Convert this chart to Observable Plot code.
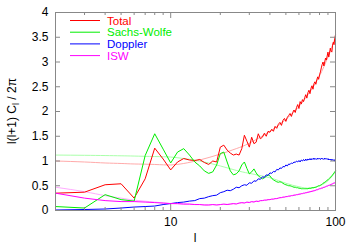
<!DOCTYPE html>
<html><head><meta charset="utf-8">
<script src="https://cdn.jsdelivr.net/npm/d3@7"></script>
<script src="https://cdn.jsdelivr.net/npm/@observablehq/plot@0.6"></script>
<style>body{margin:0;background:#fff}svg{display:block}</style>
</head><body><div id="chart"></div>
<script>
// multipoles l = 2..100
const ell = [2,3,4,5,6,7,8,9,10,11,12,13,14,15,16,17,18,19,20,21,22,23,24,25,26,27,28,29,30,31,32,33,34,35,36,37,38,39,40,41,42,43,44,45,46,47,48,49,50,51,52,53,54,55,56,57,58,59,60,61,62,63,64,65,66,67,68,69,70,71,72,73,74,75,76,77,78,79,80,81,82,83,84,85,86,87,88,89,90,91,92,93,94,95,96,97,98,99,100];
const total = [0.35,0.37,0.52,0.54,0.25,0.64,1.26,1.04,0.82,0.98,1.05,1.02,1.01,1.03,0.97,0.93,1.00,0.98,1.28,1.32,1.22,1.16,1.12,1.14,1.12,1.25,1.52,1.40,1.28,1.48,1.35,1.38,1.55,1.45,1.48,1.56,1.50,1.60,1.58,1.64,1.60,1.70,1.66,1.74,1.78,1.72,1.82,1.86,1.80,1.88,1.92,1.96,1.90,1.98,2.03,1.98,2.08,2.14,2.06,2.20,2.15,2.24,2.20,2.28,2.34,2.27,2.38,2.43,2.36,2.47,2.52,2.45,2.56,2.60,2.55,2.64,2.70,2.65,2.74,2.80,2.88,2.95,3.00,2.92,3.00,3.08,3.04,3.12,3.20,3.10,3.18,3.28,3.22,3.20,3.34,3.40,3.35,3.48,3.55];
const sachsWolfe = [0.08,0.05,0.32,0.22,0.19,1.11,1.55,1.24,0.96,1.18,1.25,1.12,0.98,0.90,0.80,0.75,0.78,0.92,1.15,1.18,0.98,0.80,0.72,0.74,0.80,0.92,0.98,0.85,0.74,0.78,0.84,0.76,0.70,0.67,0.64,0.66,0.69,0.72,0.70,0.65,0.62,0.60,0.58,0.57,0.58,0.57,0.55,0.53,0.52,0.51,0.50,0.50,0.49,0.48,0.47,0.47,0.46,0.46,0.45,0.45,0.44,0.44,0.44,0.44,0.44,0.44,0.44,0.45,0.45,0.45,0.46,0.46,0.46,0.47,0.47,0.48,0.49,0.50,0.50,0.51,0.52,0.53,0.55,0.56,0.57,0.58,0.60,0.61,0.62,0.64,0.65,0.67,0.68,0.70,0.72,0.74,0.76,0.78,0.80];
const doppler = [0.01,0.02,0.03,0.05,0.07,0.08,0.09,0.12,0.14,0.16,0.17,0.19,0.20,0.24,0.25,0.28,0.30,0.31,0.36,0.38,0.41,0.40,0.43,0.47,0.46,0.50,0.52,0.51,0.56,0.55,0.60,0.59,0.64,0.63,0.68,0.67,0.72,0.71,0.76,0.75,0.79,0.78,0.83,0.82,0.86,0.85,0.89,0.88,0.92,0.90,0.94,0.93,0.96,0.95,0.98,0.97,1.00,0.98,1.01,0.98,1.02,1.00,1.03,1.00,1.04,1.01,1.04,1.02,1.05,1.02,1.05,1.03,1.06,1.03,1.05,1.03,1.06,1.04,1.05,1.03,1.06,1.04,1.05,1.03,1.06,1.04,1.05,1.03,1.05,1.02,1.04,1.02,1.04,1.01,1.03,1.01,1.03,1.00,1.01];
const isw = [0.35,0.25,0.20,0.18,0.18,0.17,0.16,0.15,0.14,0.14,0.13,0.13,0.12,0.12,0.11,0.11,0.12,0.11,0.12,0.13,0.12,0.13,0.14,0.13,0.15,0.16,0.15,0.17,0.16,0.18,0.17,0.19,0.18,0.20,0.20,0.21,0.21,0.22,0.22,0.23,0.23,0.24,0.24,0.25,0.26,0.26,0.27,0.27,0.28,0.28,0.29,0.29,0.30,0.30,0.31,0.31,0.32,0.32,0.33,0.33,0.34,0.34,0.35,0.35,0.36,0.36,0.37,0.37,0.38,0.38,0.39,0.39,0.40,0.40,0.41,0.42,0.42,0.43,0.44,0.44,0.45,0.45,0.46,0.47,0.47,0.48,0.49,0.49,0.50,0.51,0.51,0.52,0.53,0.53,0.54,0.55,0.55,0.56,0.57];

// smooth (faint) curves
const ellSmooth = [2,3,4,5,6,8,10,12,15,20,25,30,40,50,60,70,80,90,100];
const totalSmooth = [1.00,0.98,0.96,0.95,0.94,0.93,0.92,0.95,1.02,1.14,1.25,1.36,1.60,1.84,2.10,2.40,2.72,3.10,3.50];
const swSmooth = [1.12,1.115,1.11,1.105,1.10,1.09,1.08,1.05,1.00,0.90,0.81,0.75,0.66,0.55,0.48,0.45,0.50,0.60,0.78];
const iswSmooth = [0.47,0.38,0.30,0.25,0.21,0.17,0.14,0.13,0.12,0.12,0.14,0.17,0.22,0.28,0.33,0.38,0.44,0.50,0.57];

const yTicks = [0,0.5,1,1.5,2,2.5,3,3.5,4];
const xMajor = [10,100];
const xMinor = [2,3,4,5,6,7,8,9,20,30,40,50,60,70,80,90];
const names = ["Total","Sachs-Wolfe","Doppler","ISW"];
const colors = ["#ff0000","#00ee00","#0000ff","#ff00ff"];
const faint = ["#ffaaaa","#aaffaa","#ffaaff"];

const W=349,H=245,mL=55,mR=14,mT=12,mB=35;
const pw=W-mL-mR, ph=H-mT-mB;
const rows = (arr, xs) => arr.map((v,i)=>({l:xs[i], v}));
const font = "'Liberation Sans', Arial, Helvetica, sans-serif";

const chart = Plot.plot({
  width:W, height:H, marginLeft:mL, marginRight:mR, marginTop:mT, marginBottom:mB,
  style:{fontFamily:font, fontSize:"12px", background:"#fff", color:"#000"},
  x:{type:"log", domain:[2,100]},
  y:{domain:[0,4]},
  marks:[
    Plot.line(rows(totalSmooth,ellSmooth),{x:"l",y:"v",stroke:faint[0],strokeWidth:1,curve:"natural"}),
    Plot.line(rows(swSmooth,ellSmooth),{x:"l",y:"v",stroke:faint[1],strokeWidth:1,curve:"natural"}),
    Plot.line(rows(iswSmooth,ellSmooth),{x:"l",y:"v",stroke:faint[2],strokeWidth:1,curve:"natural"}),
    Plot.line(rows(total,ell),{x:"l",y:"v",stroke:colors[0],strokeWidth:1}),
    Plot.line(rows(sachsWolfe,ell),{x:"l",y:"v",stroke:colors[1],strokeWidth:1}),
    Plot.line(rows(doppler,ell),{x:"l",y:"v",stroke:colors[2],strokeWidth:1}),
    Plot.line(rows(isw,ell),{x:"l",y:"v",stroke:colors[3],strokeWidth:1}),
    Plot.frame({stroke:"#888"}),
    Plot.tickY(yTicks,{y:d=>d, insetRight:pw-5, stroke:"#888"}),
    Plot.tickY(yTicks,{y:d=>d, insetLeft:pw-5, stroke:"#888"}),
    Plot.tickX(xMinor,{x:d=>d, insetTop:ph-3, stroke:"#888"}),
    Plot.tickX(xMinor,{x:d=>d, insetBottom:ph-3, stroke:"#888"}),
    Plot.tickX(xMajor,{x:d=>d, insetTop:ph-6, stroke:"#888"}),
    Plot.tickX(xMajor,{x:d=>d, insetBottom:ph-6, stroke:"#888"}),
    Plot.axisY({ticks:yTicks, tickSize:0, tickPadding:7, tickFormat:d=>String(d), label:null}),
    Plot.axisX({ticks:xMajor, tickSize:0, tickPadding:7, tickFormat:d=>String(d), label:null})
  ]
});

const svg = d3.select(chart);
names.forEach((n,i)=>{
  const y = 20.5 + i*11.7;
  svg.append("line").attr("x1",70).attr("x2",100).attr("y1",y).attr("y2",y)
    .attr("stroke",colors[i]).attr("stroke-width",1);
  svg.append("text").attr("x",107).attr("y",y).attr("dy","0.36em").attr("text-anchor","start")
    .attr("fill",colors[i]).attr("font-family",font).attr("font-size",11.5).text(n);
});
svg.append("text").attr("x",mL+pw/2).attr("y",238).attr("dy","0.35em")
  .attr("text-anchor","middle").attr("font-family",font).attr("font-size",12).text("l");
const yl = svg.append("text").attr("transform",`translate(12,${mT+ph/2}) rotate(-90)`)
  .attr("text-anchor","middle").attr("dy","0.35em").attr("font-family",font).attr("font-size",12);
yl.append("tspan").text("l(l+1) C");
yl.append("tspan").attr("font-size",9).attr("dy","3").text("l");
yl.append("tspan").attr("dy","-3").text(" / 2π");

document.getElementById("chart").appendChild(chart);
</script></body></html>
